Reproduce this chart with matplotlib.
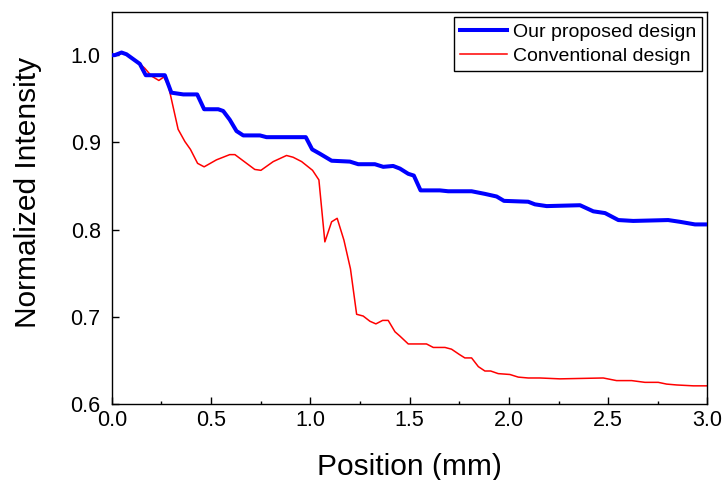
import matplotlib
matplotlib.use('Agg')
import matplotlib.pyplot as plt
from matplotlib.ticker import MultipleLocator

plt.rcParams['font.family'] = ['Liberation Sans', 'DejaVu Sans']

# our proposed design (blue)
x_prop = [0.0, 0.015, 0.049, 0.074, 0.141, 0.171, 0.267, 0.30, 0.36, 0.43, 0.465,
          0.536, 0.561, 0.594, 0.628, 0.662, 0.746, 0.779, 0.977, 1.009, 1.048,
          1.107, 1.199, 1.241, 1.325, 1.367, 1.417, 1.451, 1.493, 1.521, 1.555,
          1.652, 1.694, 1.812, 1.879, 1.938, 1.975, 2.097, 2.131, 2.190, 2.358,
          2.425, 2.484, 2.551, 2.626, 2.802, 2.861, 2.937, 3.0]
y_prop = [1.0, 1.0, 1.003, 1.001, 0.990, 0.977, 0.977, 0.957, 0.955, 0.955, 0.938,
          0.938, 0.936, 0.926, 0.913, 0.908, 0.908, 0.906, 0.906, 0.892, 0.887,
          0.879, 0.878, 0.875, 0.875, 0.872, 0.873, 0.870, 0.864, 0.862, 0.845,
          0.845, 0.844, 0.844, 0.841, 0.838, 0.833, 0.832, 0.829, 0.827, 0.828,
          0.821, 0.819, 0.811, 0.810, 0.811, 0.809, 0.806, 0.806]

# conventional design (red)
x_conv = [0.0, 0.015, 0.049, 0.074, 0.141, 0.166, 0.20, 0.237, 0.262, 0.285, 0.334,
          0.368, 0.396, 0.432, 0.465, 0.527, 0.594, 0.620, 0.720, 0.751, 0.813,
          0.880, 0.913, 0.956, 1.011, 1.043, 1.073, 1.107, 1.135, 1.169, 1.202,
          1.233, 1.266, 1.300, 1.330, 1.364, 1.392, 1.426, 1.451, 1.493, 1.585,
          1.619, 1.678, 1.711, 1.750, 1.778, 1.812, 1.846, 1.879, 1.908, 1.946,
          2.005, 2.047, 2.097, 2.156, 2.257, 2.475, 2.542, 2.618, 2.685, 2.752,
          2.794, 2.845, 2.929, 3.0]
y_conv = [1.0, 1.0, 1.003, 1.001, 0.990, 0.985, 0.976, 0.971, 0.975, 0.965, 0.915,
          0.901, 0.892, 0.876, 0.872, 0.880, 0.886, 0.886, 0.869, 0.868, 0.878,
          0.885, 0.883, 0.878, 0.868, 0.857, 0.786, 0.809, 0.813, 0.788, 0.755,
          0.703, 0.701, 0.695, 0.692, 0.696, 0.696, 0.683, 0.678, 0.669, 0.669,
          0.665, 0.665, 0.663, 0.657, 0.653, 0.653, 0.643, 0.638, 0.638, 0.635,
          0.634, 0.631, 0.630, 0.630, 0.629, 0.630, 0.627, 0.627, 0.625, 0.625,
          0.623, 0.622, 0.621, 0.621]

fig = plt.figure(figsize=(7.26, 4.8), dpi=100)
ax = fig.add_axes([0.154, 0.158, 0.8205, 0.818])

ax.plot(x_prop, y_prop, color='#0000ff', lw=2.9, label='Our proposed design', zorder=3)
ax.plot(x_conv, y_conv, color='#ff0000', lw=1.1, label='Conventional design', zorder=2)

ax.set_xlim(0, 3.0)
ax.set_ylim(0.6, 1.05)
ax.xaxis.set_major_locator(MultipleLocator(0.5))
ax.xaxis.set_minor_locator(MultipleLocator(0.25))
ax.yaxis.set_major_locator(MultipleLocator(0.1))
ax.xaxis.set_major_formatter(plt.FormatStrFormatter('%.1f'))
ax.yaxis.set_major_formatter(plt.FormatStrFormatter('%.1f'))

ax.tick_params(axis='both', which='major', direction='in', length=5, width=1,
               labelsize=15.5)
ax.tick_params(axis='x', which='minor', direction='in', length=2.5, width=1)
ax.tick_params(axis='x', which='major', pad=4)
ax.tick_params(axis='y', which='major', pad=8)
for sp in ax.spines.values():
    sp.set_linewidth(1.0)

ax.set_xlabel('Position (mm)', fontsize=21.5, labelpad=16)
ax.set_ylabel('Normalized Intensity', fontsize=21.5)
ax.yaxis.set_label_coords(-0.141, 0.54)
ax.yaxis.label.set_va('center')

leg = ax.legend(loc='upper right', fontsize=14, fancybox=False, framealpha=1,
                edgecolor='black', handlelength=2.4, handletextpad=0.3,
                labelspacing=0.35, borderpad=0.3, borderaxespad=0.3)
leg.get_frame().set_linewidth(1.0)

fig.savefig('out.png', dpi=100)
